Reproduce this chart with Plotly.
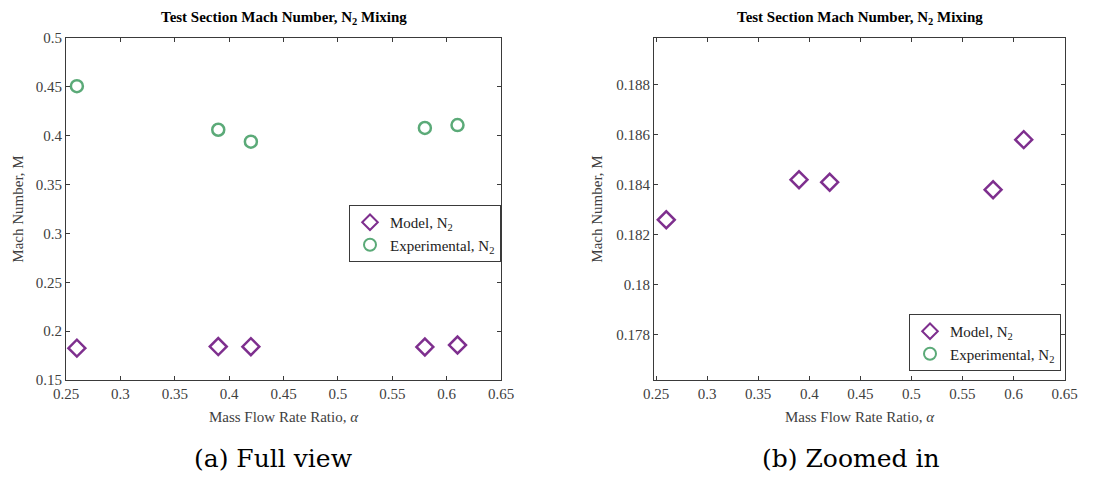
import plotly.graph_objects as go

# Data
alpha = [0.26, 0.39, 0.42, 0.58, 0.61]
mach_model = [0.1826, 0.1842, 0.1841, 0.1838, 0.1858]
mach_exp = [0.4507, 0.4061, 0.3939, 0.4079, 0.4109]

x_ticks = [0.25, 0.3, 0.35, 0.4, 0.45, 0.5, 0.55, 0.6, 0.65]
x_ticklabels = ["0.25", "0.3", "0.35", "0.4", "0.45", "0.5", "0.55", "0.6", "0.65"]
y1_ticks = [0.15, 0.2, 0.25, 0.3, 0.35, 0.4, 0.45, 0.5]
y1_ticklabels = ["0.15", "0.2", "0.25", "0.3", "0.35", "0.4", "0.45", "0.5"]
y2_ticks = [0.178, 0.18, 0.182, 0.184, 0.186, 0.188]
y2_ticklabels = ["0.178", "0.18", "0.182", "0.184", "0.186", "0.188"]

title_text = "<b>Test Section Mach Number, N<sub>2</sub> Mixing</b>"
captions = ["(a) Full view", "(b) Zoomed in"]

PURPLE = "#7E2F8E"
GREEN = "#5BAA78"
AXC = "#3a3a3a"
TXT = "#404040"
FONT = "Liberation Serif, Times New Roman, serif"

W, H = 1113, 479
def px_x(p):
    return p / W
def px_y(p):
    return (H - p) / H

fig = go.Figure()

for i, (xa, ya, lg) in enumerate([("x", "y", "legend"), ("x2", "y2", "legend2")]):
    fig.add_trace(go.Scatter(
        x=alpha, y=mach_model, mode="markers", name="Model, N<sub>2</sub>",
        xaxis=xa, yaxis=ya, legend=lg,
        marker=dict(symbol="diamond-open", size=13, color=PURPLE, line=dict(width=2.5, color=PURPLE)),
        cliponaxis=True,
    ))
    fig.add_trace(go.Scatter(
        x=alpha, y=mach_exp, mode="markers", name="Experimental, N<sub>2</sub>",
        xaxis=xa, yaxis=ya, legend=lg,
        marker=dict(symbol="circle-open", size=12, color=GREEN, line=dict(width=2.5, color=GREEN)),
        cliponaxis=True,
    ))

axis_common = dict(
    showline=True, linecolor=AXC, linewidth=1, mirror="ticks",
    ticks="inside", ticklen=4, tickcolor=AXC, tickwidth=1,
    showgrid=False, zeroline=False, automargin=False,
    tickfont=dict(family=FONT, size=15, color=TXT),
    title_font=dict(family=FONT, size=15, color=TXT),
)

fig.update_layout(
    width=W, height=H,
    margin=dict(l=0, r=0, t=0, b=0, autoexpand=False),
    paper_bgcolor="white", plot_bgcolor="white",
    font=dict(family=FONT, color=TXT),
    xaxis=dict(domain=[px_x(66), px_x(501)], anchor="y", range=[0.25, 0.65],
               tickvals=x_ticks, ticktext=x_ticklabels,
               title=dict(text="Mass Flow Rate Ratio, <i>α</i>", standoff=10), **axis_common),
    yaxis=dict(domain=[px_y(380), px_y(38)], anchor="x", range=[0.15, 0.5],
               tickvals=y1_ticks, ticktext=y1_ticklabels,
               title=dict(text="Mach Number, M", standoff=8), **axis_common),
    xaxis2=dict(domain=[px_x(654), px_x(1065)], anchor="y2", range=[0.248, 0.6504],
                tickvals=x_ticks, ticktext=x_ticklabels,
                title=dict(text="Mass Flow Rate Ratio, <i>α</i>", standoff=10), **axis_common),
    yaxis2=dict(domain=[px_y(380), px_y(38)], anchor="x2", range=[0.17620, 0.18986],
                tickvals=y2_ticks, ticktext=y2_ticklabels,
                title=dict(text="Mach Number, M", standoff=10), **axis_common),
    legend=dict(x=px_x(501), y=px_y(205), xanchor="right", yanchor="top",
                bordercolor=AXC, borderwidth=1, bgcolor="white",
                font=dict(family=FONT, size=15, color="#222222"), tracegroupgap=0,
                itemsizing="constant"),
    legend2=dict(x=px_x(1061), y=px_y(314), xanchor="right", yanchor="top",
                 bordercolor=AXC, borderwidth=1, bgcolor="white",
                 font=dict(family=FONT, size=15, color="#222222"), tracegroupgap=0,
                 itemsizing="constant"),
    showlegend=True,
)

# Titles
for cx in [(66 + 501) / 2, (654 + 1065) / 2]:
    fig.add_annotation(text=title_text, x=px_x(cx), y=px_y(18), xref="paper", yref="paper",
                       showarrow=False, xanchor="center", yanchor="middle",
                       font=dict(family=FONT, size=15, color="black"))

# Captions
for cx, cap in zip([273, 850], captions):
    fig.add_annotation(text=cap, x=px_x(cx), y=px_y(458), xref="paper", yref="paper",
                       showarrow=False, xanchor="center", yanchor="middle",
                       font=dict(family="DejaVu Serif", size=25, color="black"))

fig.write_html("out.html")
